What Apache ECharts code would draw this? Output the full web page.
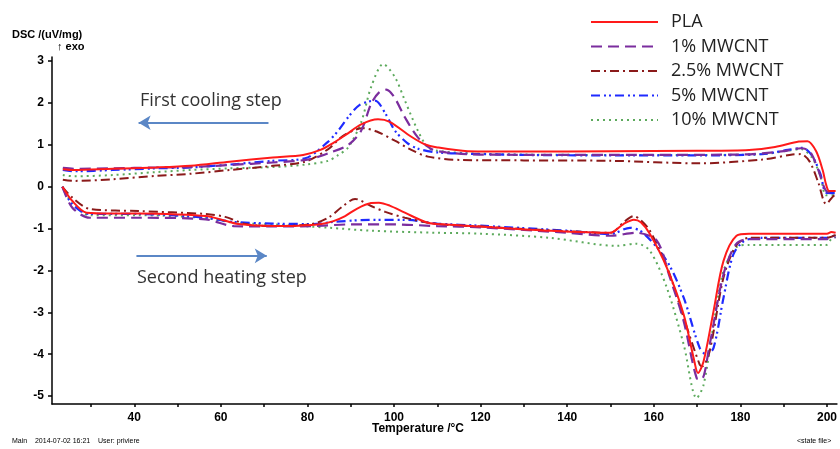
<!DOCTYPE html>
<html>
<head>
<meta charset="utf-8">
<script src="https://cdn.jsdelivr.net/npm/echarts@6/dist/echarts.min.js"></script>
<style>
  html, body { margin: 0; padding: 0; background: #fff; }
  #chart { width: 840px; height: 449px; }
</style>
</head>
<body>
<div id="chart"></div>
<script>
// tick values
const xLabelTicks = [40, 60, 80, 100, 120, 140, 160, 180, 200];
const xMinorTicks = [30, 40, 50, 60, 70, 80, 90, 100, 110, 120, 130, 140, 150, 160, 170, 180, 190, 200];
const yTicks = [-5, -4, -3, -2, -1, 0, 1, 2, 3];

const sampleNames = ["PLA", "1% MWCNT", "2.5% MWCNT", "5% MWCNT", "10% MWCNT"];

// first cooling step  [temperature, DSC]
const plaCool = [[23.5,0.42],[26,0.40],[35,0.43],[45,0.46],[53,0.50],[62,0.60],[72,0.70],[79,0.76],[83,0.88],[86,1.05],[89,1.25],[92.4,1.49],[96.3,1.61],[99,1.55],[103.9,1.20],[107,1.02],[110,0.94],[117,0.85],[130,0.84],[150,0.85],[170,0.86],[182,0.88],[188,0.95],[193.5,1.08],[195.5,1.09],[197.5,0.85],[199,0.40],[199.8,0.05],[200.5,-0.10],[202,-0.10]];
const mw1Cool = [[23.5,0.45],[26,0.43],[35,0.44],[45,0.46],[53,0.47],[62,0.52],[72,0.58],[80,0.65],[84.8,0.80],[89.4,1.00],[92.4,1.34],[94.7,1.98],[96.5,2.25],[98.2,2.32],[100,2.15],[102.5,1.66],[105.5,1.18],[108.5,0.91],[112,0.82],[120,0.77],[150,0.76],[180,0.77],[190,0.85],[194,0.92],[196,0.85],[198,0.40],[199.8,-0.10],[202,-0.15]];
const mw25Cool = [[23.5,0.17],[26,0.14],[35,0.18],[45,0.26],[53,0.31],[62,0.40],[72,0.50],[79.5,0.60],[84.8,0.90],[88,1.20],[91,1.36],[92.9,1.40],[96,1.32],[100.2,1.10],[104,0.88],[107.8,0.72],[115.4,0.64],[130,0.63],[150,0.62],[170.6,0.56],[185,0.65],[192,0.77],[194,0.78],[196,0.60],[198,0.10],[199.8,-0.41],[201.5,-0.22],[202,-0.20]];
const mw5Cool = [[23.5,0.40],[26,0.37],[35,0.40],[45,0.44],[53,0.46],[62,0.53],[72,0.62],[79.5,0.68],[84.8,1.08],[87.1,1.34],[89.4,1.66],[92,1.95],[95.6,2.06],[98,1.75],[100.2,1.34],[103,1.05],[105.5,0.91],[110,0.82],[117,0.79],[130,0.76],[150,0.75],[170,0.75],[185,0.78],[191,0.88],[194.4,0.93],[196.5,0.75],[198.5,0.30],[199.8,-0.14],[202,-0.15]];
const mw10Cool = [[23.5,0.28],[26,0.25],[35,0.28],[45,0.35],[53,0.40],[62,0.44],[72,0.47],[79.5,0.53],[84.8,0.62],[87,0.75],[89.4,0.94],[92.4,1.54],[94.7,2.38],[97.5,2.93],[100.2,2.62],[102.5,2.06],[105.5,1.34],[107.8,0.94],[110,0.86],[117,0.80],[130,0.77],[150,0.76],[170,0.76],[185,0.78],[191,0.86],[194,0.90],[196.5,0.70],[198.5,0.25],[199.8,-0.20],[202,-0.20]];

// second heating step
const plaHeat = [[23.4,0],[25.7,-0.34],[29,-0.62],[35,-0.64],[41,-0.64],[50,-0.66],[56.5,-0.70],[60,-0.78],[64,-0.89],[72,-0.94],[78,-0.93],[83.2,-0.89],[86,-0.82],[88.7,-0.70],[91.5,-0.52],[94.7,-0.39],[96.5,-0.38],[99,-0.45],[102.5,-0.62],[107.8,-0.86],[112,-0.90],[120,-0.95],[136,-1.05],[149.9,-1.10],[153,-0.89],[155.4,-0.79],[157,-0.85],[159.1,-1.13],[163,-1.93],[166.9,-3.05],[169.2,-4.09],[170.2,-4.45],[171.5,-4.17],[173.8,-2.97],[176.1,-1.77],[179.1,-1.17],[182,-1.12],[200,-1.12],[201,-1.08],[202,-1.10]];
const mw1Heat = [[23.4,0],[25.7,-0.50],[29.7,-0.74],[41,-0.74],[56.5,-0.78],[63,-0.94],[72,-0.95],[81,-0.94],[90,-0.90],[100,-0.90],[110,-0.94],[120,-0.97],[140,-1.10],[150,-1.17],[156,-1.10],[160.7,-1.29],[163.5,-2.10],[166.9,-3.21],[169.9,-4.57],[171,-4.60],[172.9,-3.77],[176.1,-2.09],[179,-1.37],[182,-1.25],[200,-1.25],[202,-1.20]];
const mw25Heat = [[23.4,0],[25.7,-0.26],[29.7,-0.53],[41,-0.58],[56.5,-0.65],[61,-0.72],[65.7,-0.89],[71.7,-0.94],[80.9,-0.89],[84.8,-0.74],[88,-0.48],[91,-0.29],[94.7,-0.46],[98,-0.60],[102.5,-0.74],[110,-0.89],[120,-0.95],[140,-1.06],[150,-1.10],[153,-0.85],[155.4,-0.70],[157,-0.80],[159.1,-1.05],[163,-1.90],[166.9,-3.13],[170.6,-4.25],[171.2,-4.29],[172.9,-3.93],[176.1,-2.17],[179,-1.41],[182,-1.22],[200,-1.22],[202,-1.15]];
const mw5Heat = [[23.4,0],[25.7,-0.42],[29.7,-0.65],[41,-0.65],[56.5,-0.74],[63,-0.84],[72,-0.88],[81,-0.89],[86,-0.84],[94.7,-0.79],[102.5,-0.79],[110,-0.88],[120,-0.93],[140,-1.05],[150,-1.13],[154.5,-0.98],[157.5,-1.10],[163,-1.77],[166.9,-2.65],[170.6,-3.85],[172.2,-4.01],[173.8,-3.85],[176.1,-2.65],[178.4,-1.61],[181,-1.29],[185,-1.22],[200,-1.22],[202,-1.15]];
const mw10Heat = [[23.4,0],[25.7,-0.40],[29.7,-0.68],[41,-0.68],[56.5,-0.75],[63,-0.86],[72,-0.90],[85,-0.98],[94.7,-1.05],[110,-1.10],[120,-1.12],[136,-1.22],[151.5,-1.41],[156,-1.36],[159.1,-1.53],[163,-2.41],[166.9,-3.77],[169.9,-5.05],[171.5,-4.73],[173.8,-3.29],[176.1,-2.01],[179,-1.45],[182,-1.39],[199.8,-1.39],[201,-1.25],[202,-1.20]];

// arrows (data coordinates)
const coolArrow = [[71, 1.53], [41, 1.53]];
const heatArrow = [[40.5, -1.65], [70.6, -1.65]];

let myChart = echarts.init(document.getElementById("chart"));

let styles = [
  { color: "#FF1A1A", type: "solid", width: 2 },
  { color: "#7B2D9E", type: [11, 6], width: 2.2 },
  { color: "#8B1A1A", type: [9, 4, 2, 4], width: 2 },
  { color: "#1F2BFF", type: [9, 4, 2, 3, 2, 4], width: 2.2 },
  { color: "#5DAA5D", type: [2, 4], width: 2 }
];
let cools = [plaCool, mw1Cool, mw25Cool, mw5Cool, mw10Cool];
let heats = [plaHeat, mw1Heat, mw25Heat, mw5Heat, mw10Heat];

let series = [];
sampleNames.forEach(function(name, i) {
  [cools[i], heats[i]].forEach(function(d) {
    series.push({
      name: name,
      type: "line",
      data: d,
      symbol: "none",
      smooth: 0.3,
      color: styles[i].color,
      lineStyle: { color: styles[i].color, type: styles[i].type, width: styles[i].width },
      z: 10 - i,
      animation: false
    });
  });
});

let arrowStyle = { color: "#5B87C6", width: 2.2, type: "solid" };
series.push({
  type: "line",
  data: [],
  silent: true,
  markLine: {
    silent: true,
    symbol: ["none", "arrow"],
    symbolSize: [11, 12],
    label: { show: false },
    lineStyle: arrowStyle,
    animation: false,
    data: [
      [{ coord: coolArrow[0] }, { coord: coolArrow[1] }],
      [{ coord: heatArrow[0] }, { coord: heatArrow[1] }]
    ]
  }
});

let axisFont = { fontFamily: "Liberation Sans", fontWeight: "bold", fontSize: 12, color: "#000" };

myChart.setOption({
  animation: false,
  grid: { left: 52, right: 0, top: 57, bottom: 45 },
  legend: {
    data: sampleNames,
    orient: "vertical",
    left: 585,
    top: 8,
    itemWidth: 67,
    itemHeight: 12,
    itemGap: 6.5,
    itemStyle: { opacity: 0 },
    textStyle: {
      fontFamily: "Open Sans",
      fontSize: 18,
      color: "#222",
      padding: [0, 0, 0, 8]
    }
  },
  xAxis: {
    type: "value",
    min: 21,
    max: 202.3,
    axisLine: { onZero: false, lineStyle: { color: "#000", width: 1.5 } },
    axisTick: { customValues: xMinorTicks, length: 3, lineStyle: { color: "#000", width: 1.5 } },
    axisLabel: Object.assign({ customValues: xLabelTicks, margin: 8 }, axisFont),
    splitLine: { show: false }
  },
  yAxis: {
    type: "value",
    min: -5.19,
    max: 3.1,
    axisLine: { show: true, onZero: false, lineStyle: { color: "#000", width: 1.5 } },
    axisTick: { show: true, customValues: yTicks, length: 4, lineStyle: { color: "#000", width: 1.5 } },
    axisLabel: Object.assign({ customValues: yTicks, margin: 8 }, axisFont),
    splitLine: { show: false }
  },
  graphic: [
    { type: "text", left: 12, top: 29, style: { text: "DSC /(uV/mg)", font: "bold 11px Liberation Sans", fill: "#000" } },
    { type: "text", left: 57, top: 41, style: { text: "\u2191 exo", font: "bold 11px Liberation Sans", fill: "#000" } },
    { type: "text", left: 372, top: 423, style: { text: "Temperature /\u00B0C", font: "bold 12px Liberation Sans", fill: "#000" } },
    { type: "text", left: 140, top: 92, style: { text: "First cooling step", font: "18px Open Sans", fill: "#333" } },
    { type: "text", left: 137, top: 269, style: { text: "Second heating step", font: "18px Open Sans", fill: "#333" } },
    { type: "text", left: 12, top: 438, style: { text: "Main    2014-07-02 16:21    User: priviere", font: "7px Liberation Sans", fill: "#000" } },
    { type: "text", left: 797, top: 438, style: { text: "<state file>", font: "7px Liberation Sans", fill: "#000" } }
  ],
  series: series
});
</script>
</body>
</html>
